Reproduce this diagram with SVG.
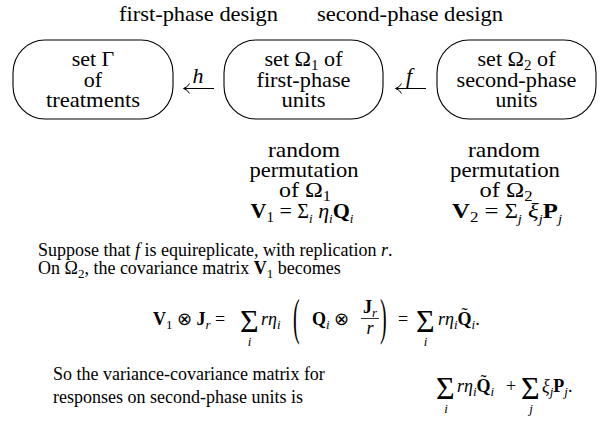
<svg xmlns="http://www.w3.org/2000/svg" width="603" height="425" viewBox="0 0 603 425">
<style>
text{font-family:"Liberation Serif","Times New Roman",serif;fill:#000}
.d{font-size:22px;text-anchor:middle}
.b{font-size:18px}
.i{font-style:italic}
.bf{font-weight:bold}
.s{font-size:13px}
.node rect{fill:#fff;stroke:#000;stroke-width:1.1}
.conn path{fill:none;stroke:#000;stroke-width:1}
</style>
<rect width="603" height="425" fill="#fff"/>

<g id="headers">
<text class="d" x="198.5" y="21" textLength="159" lengthAdjust="spacingAndGlyphs">first-phase design</text>
<text class="d" x="410" y="21" textLength="186" lengthAdjust="spacingAndGlyphs">second-phase design</text>
</g>

<g id="node-treatments" class="node">
<rect x="13" y="40" width="160" height="79" rx="32" ry="33"/>
<text class="d" x="93" y="66">set Γ</text>
<text class="d" x="93" y="87">of</text>
<text class="d" x="93" y="107" textLength="94" lengthAdjust="spacingAndGlyphs">treatments</text>
</g>

<g id="node-omega1" class="node">
<rect x="224" y="40" width="159" height="79" rx="32" ry="33"/>
<text class="d" x="303.5" y="66" textLength="78" lengthAdjust="spacingAndGlyphs">set Ω<tspan font-size="15" dy="4">1</tspan><tspan dy="-4"> of</tspan></text>
<text class="d" x="303.5" y="87" textLength="94" lengthAdjust="spacingAndGlyphs">first-phase</text>
<text class="d" x="303.5" y="107" textLength="44" lengthAdjust="spacingAndGlyphs">units</text>
</g>

<g id="node-omega2" class="node">
<rect x="437" y="40" width="159" height="79" rx="32" ry="33"/>
<text class="d" x="516.5" y="66" textLength="78" lengthAdjust="spacingAndGlyphs">set Ω<tspan font-size="15" dy="4">2</tspan><tspan dy="-4"> of</tspan></text>
<text class="d" x="516.5" y="87" textLength="120" lengthAdjust="spacingAndGlyphs">second-phase</text>
<text class="d" x="516.5" y="107" textLength="42" lengthAdjust="spacingAndGlyphs">units</text>
</g>

<g id="connectors" class="conn">
<g id="edge-h">
<path d="M214,88.5 H184"/>
<path d="M189.5,83.5 Q187.5,87.5 183.5,88.5 Q187.5,89.5 189.5,93.5"/>
<text class="d i" x="198" y="83">h</text>
</g>
<g id="edge-f">
<path d="M426,88.5 H396"/>
<path d="M401.5,83.5 Q399.5,87.5 395.5,88.5 Q399.5,89.5 401.5,93.5"/>
<text class="d i" x="409" y="83">f</text>
</g>
</g>

<g id="col1">
<text class="d" x="304" y="157" textLength="72" lengthAdjust="spacingAndGlyphs">random</text>
<text class="d" x="304" y="177" textLength="109" lengthAdjust="spacingAndGlyphs">permutation</text>
<text class="d" x="305" y="197" textLength="52" lengthAdjust="spacingAndGlyphs">of Ω<tspan font-size="15" dy="4">1</tspan></text>
<text class="d" x="302" y="218" textLength="103" lengthAdjust="spacingAndGlyphs"><tspan class="bf">V</tspan><tspan font-size="15" dy="4">1</tspan><tspan dy="-4"> = </tspan><tspan font-size="20">Σ</tspan><tspan class="i s" dy="5">i</tspan><tspan class="i" dy="-5"> η</tspan><tspan class="i s" dy="5">i</tspan><tspan class="bf" dy="-5">Q</tspan><tspan class="i s" dy="5">i</tspan></text>
</g>

<g id="col2">
<text class="d" x="504" y="157" textLength="72" lengthAdjust="spacingAndGlyphs">random</text>
<text class="d" x="505" y="177" textLength="110" lengthAdjust="spacingAndGlyphs">permutation</text>
<text class="d" x="506" y="197" textLength="53" lengthAdjust="spacingAndGlyphs">of Ω<tspan font-size="15" dy="4">2</tspan></text>
<text class="d" x="507" y="218" textLength="110" lengthAdjust="spacingAndGlyphs"><tspan class="bf">V</tspan><tspan font-size="15" dy="4">2</tspan><tspan dy="-4"> = </tspan><tspan font-size="20">Σ</tspan><tspan class="i s" dy="5">j</tspan><tspan class="i" dy="-5"> ξ</tspan><tspan class="i s" dy="5">j</tspan><tspan class="bf" dy="-5">P</tspan><tspan class="i s" dy="5">j</tspan></text>
</g>

<g id="text-body">
<text class="b" x="38" y="256">Suppose that <tspan class="i">f</tspan> is equireplicate, with replication <tspan class="i">r</tspan>.</text>
<text class="b" x="38" y="274">On Ω<tspan class="s" dy="4">2</tspan><tspan dy="-4">, the covariance matrix </tspan><tspan class="bf">V</tspan><tspan class="s" dy="4">1</tspan><tspan dy="-4"> becomes</tspan></text>
</g>

<g id="equation1">
<text class="b" x="153" y="325"><tspan class="bf">V</tspan><tspan class="s" dy="4">1</tspan><tspan dy="-4"> ⊗ </tspan><tspan class="bf">J</tspan><tspan class="i s" dy="4">r</tspan><tspan dy="-4"> =</tspan></text>
<text font-size="32" x="240" y="332">Σ</text>
<text class="i s" x="249.5" y="346" text-anchor="middle">i</text>
<text class="b" x="261" y="325"><tspan class="i">rη</tspan><tspan class="i s" dy="4">i</tspan></text>
<text font-size="20" transform="translate(293,334) scale(1,2.5)">(</text>
<text class="b" x="312" y="325"><tspan class="bf">Q</tspan><tspan class="i s" dy="4">i</tspan><tspan dy="-4"> ⊗</tspan></text>
<text class="b" x="363" y="313"><tspan class="bf">J</tspan><tspan class="i s" dy="4">r</tspan></text>
<path d="M361,318.5 H379" stroke="#000" stroke-width="0.8"/>
<text class="b i" x="370" y="334" text-anchor="middle">r</text>
<text font-size="20" transform="translate(380,334) scale(1,2.5)">)</text>
<text class="b" x="398" y="325">=</text>
<text font-size="32" x="416" y="332">Σ</text>
<text class="i s" x="425.5" y="346" text-anchor="middle">i</text>
<text class="b" x="438" y="325"><tspan class="i">rη</tspan><tspan class="i s" dy="4">i</tspan><tspan class="bf" dy="-4">Q</tspan><tspan class="i s" dy="4">i</tspan><tspan dy="-4">.</tspan></text>
<text class="b" x="461.5" y="321">˜</text>
</g>

<g id="text-final">
<text class="b" x="53" y="380">So the variance-covariance matrix for</text>
<text class="b" x="53" y="403">responses on second-phase units is</text>
</g>

<g id="equation2">
<text font-size="32" x="436" y="399">Σ</text>
<text class="i s" x="446" y="413" text-anchor="middle">i</text>
<text class="b" x="457" y="392"><tspan class="i">rη</tspan><tspan class="i s" dy="4">i</tspan><tspan class="bf" dy="-4">Q</tspan><tspan class="i s" dy="4">i</tspan></text>
<text class="b" x="480.5" y="388">˜</text>
<text class="b" x="506" y="392">+</text>
<text font-size="32" x="521" y="399">Σ</text>
<text class="i s" x="531" y="413" text-anchor="middle">j</text>
<text class="b" x="542" y="392"><tspan class="i">ξ</tspan><tspan class="i s" dy="4">j</tspan><tspan class="bf" dy="-4">P</tspan><tspan class="i s" dy="4">j</tspan><tspan dy="-4">.</tspan></text>
</g>
</svg>
